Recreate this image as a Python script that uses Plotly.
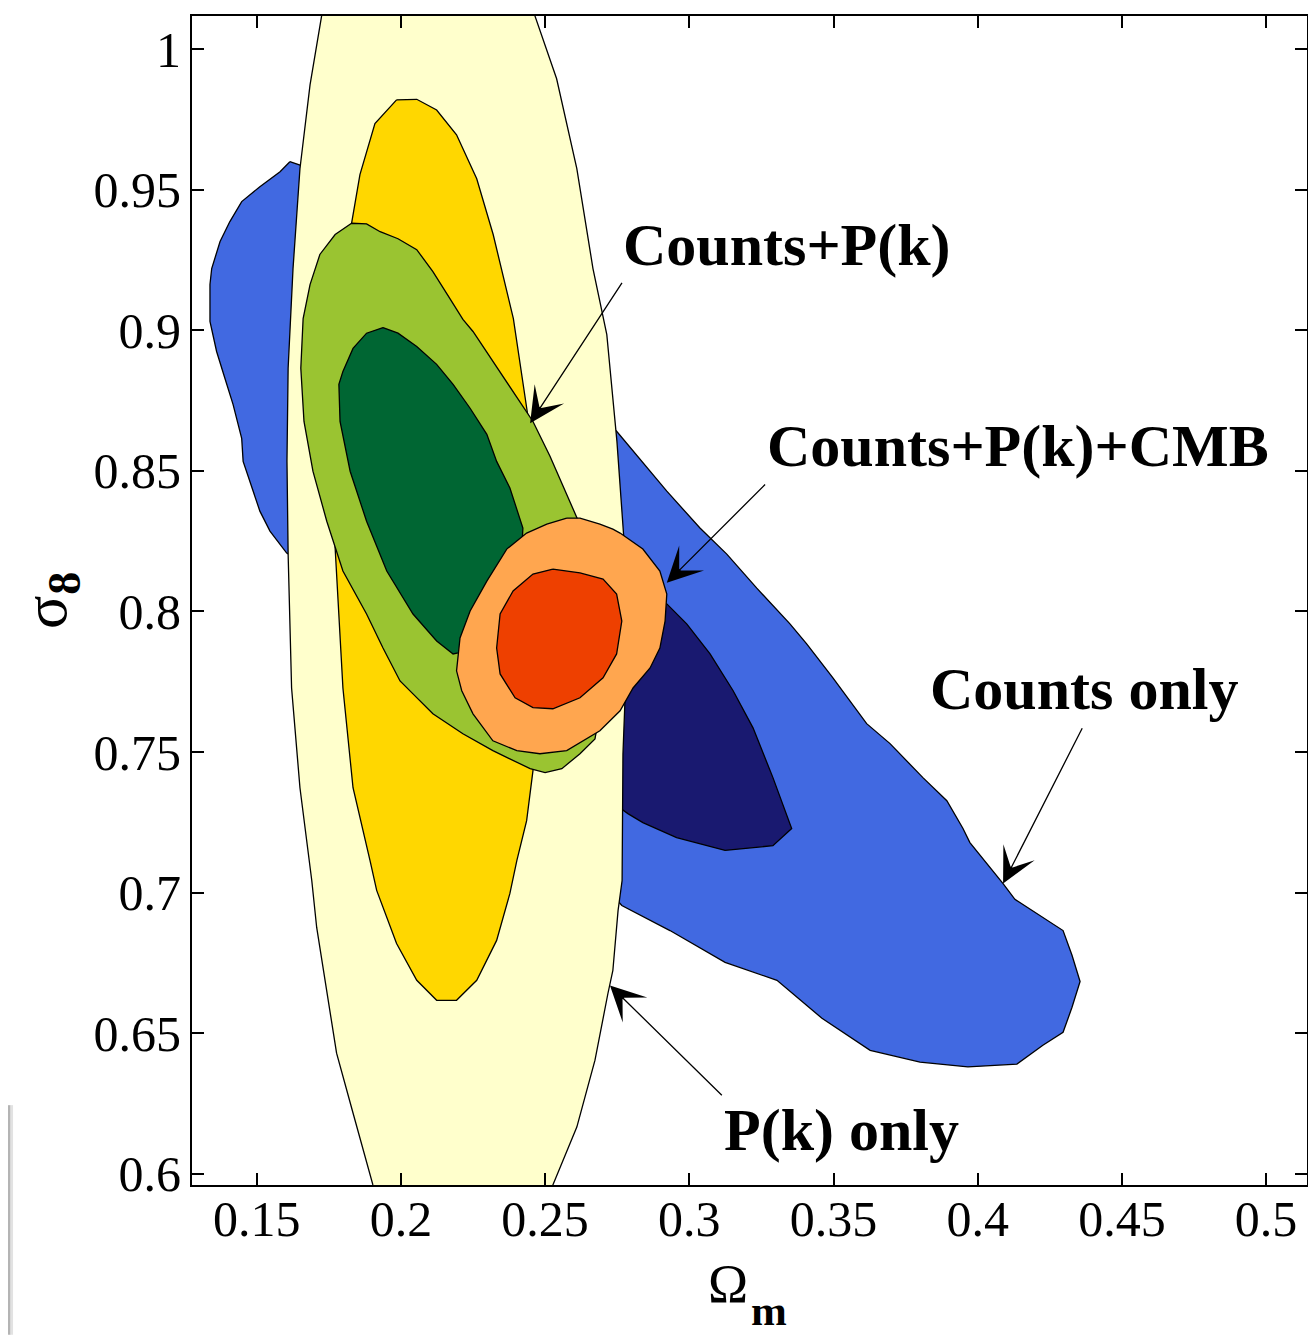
import plotly.graph_objects as go

# ---------------- data (Omega_m, sigma_8) ----------------
# Counts only, outer (2 sigma) contour
cnt_2s_om = [0.1615, 0.1643, 0.1719, 0.2170, 0.2708, 0.2748, 0.2805, 0.2922, 0.3037, 0.3130,
             0.3234, 0.3349, 0.3407, 0.3498, 0.3615, 0.3696, 0.3810, 0.3893, 0.3949, 0.3973,
             0.4088, 0.4129, 0.4296, 0.4327, 0.4355, 0.4327, 0.4296, 0.4226, 0.4136, 0.3966,
             0.3800, 0.3627, 0.3460, 0.3304, 0.3124, 0.2933, 0.2766, 0.2690, 0.2170, 0.1650,
             0.1604, 0.1546, 0.1511, 0.1483, 0.1453, 0.1448, 0.1418, 0.1390, 0.1361, 0.1338,
             0.1338, 0.1344, 0.1373, 0.1407, 0.1448, 0.1511, 0.1581]
cnt_2s_s8 = [0.9600, 0.9590, 0.9564, 0.9245, 0.8676, 0.8641, 0.8570, 0.8428, 0.8297, 0.8204,
             0.8083, 0.7956, 0.7885, 0.7764, 0.7601, 0.7530, 0.7409, 0.7327, 0.7228, 0.7178,
             0.7032, 0.6976, 0.6865, 0.6777, 0.6684, 0.6592, 0.6503, 0.6457, 0.6390, 0.6380,
             0.6397, 0.6439, 0.6553, 0.6688, 0.6752, 0.6865, 0.6954, 0.7043, 0.7682, 0.8179,
             0.8208, 0.8286, 0.8357, 0.8439, 0.8534, 0.8616, 0.8737, 0.8829, 0.8925, 0.9032,
             0.9163, 0.9220, 0.9316, 0.9387, 0.9458, 0.9511, 0.9564]

# Counts only, inner (1 sigma) contour
cnt_1s_om = [0.2922, 0.2991, 0.3072, 0.3152, 0.3221, 0.3290, 0.3355, 0.3290, 0.3124, 0.2956,
             0.2839, 0.2787, 0.2725, 0.2690, 0.2742, 0.2864]
cnt_1s_s8 = [0.8027, 0.7956, 0.7849, 0.7718, 0.7586, 0.7409, 0.7228, 0.7167, 0.7150, 0.7196,
             0.7249, 0.7281, 0.7327, 0.7682, 0.8037, 0.8073]

# P(k) only, outer contour
pk_2s_om = [0.1725, 0.1685, 0.1650, 0.1626, 0.1609, 0.1605, 0.1609, 0.1621, 0.1650, 0.1691,
            0.1708, 0.1737, 0.1777, 0.1834, 0.1903, 0.1962, 0.2222, 0.2465, 0.2527, 0.2610,
            0.2673, 0.2718, 0.2735, 0.2753, 0.2767, 0.2770, 0.2783, 0.2777, 0.2749, 0.2714,
            0.2666, 0.2610, 0.2540, 0.2465, 0.2413, 0.2101, 0.1789]
pk_2s_s8 = [1.0118, 0.9873, 0.9575, 0.9220, 0.8865, 0.8534, 0.8204, 0.7728, 0.7373, 0.7043,
            0.6876, 0.6688, 0.6429, 0.6216, 0.5960, 0.5765, 0.5658, 0.5765, 0.5960, 0.6166,
            0.6404, 0.6642, 0.6723, 0.6936, 0.7043, 0.7494, 0.7849, 0.8204, 0.8606, 0.8985,
            0.9220, 0.9575, 0.9895, 1.0118, 1.0275, 1.0417, 1.0275]

# P(k) only, inner contour
pk_1s_om = [0.1985, 0.2055, 0.2124, 0.2193, 0.2263, 0.2320, 0.2390, 0.2442, 0.2465, 0.2475,
            0.2472, 0.2458, 0.2436, 0.2402, 0.2378, 0.2332, 0.2263, 0.2193, 0.2124, 0.2055,
            0.1985, 0.1916, 0.1893, 0.1834, 0.1799, 0.1772, 0.1772, 0.1778, 0.1796, 0.1829,
            0.1858, 0.1910]
pk_1s_s8 = [0.9820, 0.9822, 0.9784, 0.9696, 0.9539, 0.9341, 0.9042, 0.8684, 0.8392, 0.8037,
            0.7682, 0.7434, 0.7256, 0.7114, 0.6997, 0.6830, 0.6688, 0.6617, 0.6617, 0.6688,
            0.6819, 0.7008, 0.7114, 0.7373, 0.7728, 0.8226, 0.8463, 0.8748, 0.9103, 0.9381,
            0.9554, 0.9736]

# Counts+P(k), outer contour
cp_2s_om = [0.1829, 0.1881, 0.1928, 0.1990, 0.2055, 0.2111, 0.2170, 0.2215, 0.2250, 0.2319,
            0.2389, 0.2458, 0.2517, 0.2552, 0.2579, 0.2611, 0.2690, 0.2708, 0.2673, 0.2621,
            0.2558, 0.2500, 0.2448, 0.2389, 0.2319, 0.2215, 0.2111, 0.2042, 0.1997, 0.1938,
            0.1881, 0.1799, 0.1743, 0.1695, 0.1664, 0.1653, 0.1661, 0.1685, 0.1719, 0.1772]
cp_2s_s8 = [0.9381, 0.9379, 0.9351, 0.9326, 0.9287, 0.9209, 0.9113, 0.9039, 0.8996, 0.8890,
            0.8783, 0.8676, 0.8552, 0.8471, 0.8410, 0.8332, 0.8037, 0.7753, 0.7547, 0.7494,
            0.7441, 0.7427, 0.7441, 0.7469, 0.7505, 0.7565, 0.7636, 0.7707, 0.7753, 0.7870,
            0.7991, 0.8144, 0.8321, 0.8499, 0.8676, 0.8865, 0.9042, 0.9163, 0.9270, 0.9341]

# Counts+P(k), inner contour
cp_1s_om = [0.1938, 0.1990, 0.2055, 0.2124, 0.2181, 0.2240, 0.2298, 0.2332, 0.2378, 0.2423,
            0.2413, 0.2309, 0.2198, 0.2181, 0.2124, 0.2042, 0.1951, 0.1881, 0.1824, 0.1789,
            0.1785, 0.1799, 0.1834, 0.1881]
cp_1s_s8 = [0.9010, 0.8990, 0.8943, 0.8879, 0.8808, 0.8723, 0.8630, 0.8534, 0.8439, 0.8297,
            0.8108, 0.7895, 0.7853, 0.7849, 0.7895, 0.7991, 0.8144, 0.8321, 0.8499, 0.8676,
            0.8808, 0.8854, 0.8936, 0.8990]

# Counts+P(k)+CMB, outer contour
cmb_2s_om = [0.2575, 0.2621, 0.2690, 0.2735, 0.2760, 0.2839, 0.2898, 0.2922, 0.2916, 0.2898,
             0.2864, 0.2805, 0.2760, 0.2690, 0.2575, 0.2482, 0.2402, 0.2319, 0.2250, 0.2211,
             0.2193, 0.2205, 0.2240, 0.2298, 0.2367, 0.2436, 0.2506]
cmb_2s_s8 = [0.8332, 0.8332, 0.8311, 0.8293, 0.8279, 0.8222, 0.8144, 0.8062, 0.7966, 0.7870,
             0.7799, 0.7728, 0.7647, 0.7576, 0.7505, 0.7494, 0.7505, 0.7540, 0.7636, 0.7718,
             0.7789, 0.7906, 0.8002, 0.8108, 0.8222, 0.8279, 0.8311]

# Counts+P(k)+CMB, inner contour
cmb_1s_om = [0.2527, 0.2621, 0.2701, 0.2748, 0.2766, 0.2748, 0.2701, 0.2621, 0.2527, 0.2458,
             0.2396, 0.2344, 0.2332, 0.2344, 0.2389, 0.2458]
cmb_1s_s8 = [0.8151, 0.8137, 0.8115, 0.8062, 0.7966, 0.7849, 0.7764, 0.7693, 0.7654, 0.7658,
             0.7693, 0.7778, 0.7870, 0.7991, 0.8073, 0.8133]

# tick labels
x_tickvals = [0.15, 0.2, 0.25, 0.3, 0.35, 0.4, 0.45, 0.5]
x_ticktext = ["0.15", "0.2", "0.25", "0.3", "0.35", "0.4", "0.45", "0.5"]
y_tickvals = [0.6, 0.65, 0.7, 0.75, 0.8, 0.85, 0.9, 0.95, 1.0]
y_ticktext = ["0.6", "0.65", "0.7", "0.75", "0.8", "0.85", "0.9", "0.95", "1"]

# labels: text, label centre (om, s8), arrow tail (om, s8), arrow tip (om, s8)
label_text = ["Counts+P(k)", "Counts+P(k)+CMB", "Counts only", "P(k) only"]
label_om = [0.3340, 0.4138, 0.4369, 0.3528]
label_s8 = [0.9305, 0.8588, 0.7725, 0.6155]
tail_om = [0.2770, 0.3268, 0.4365, 0.3118]
tail_s8 = [0.9174, 0.8457, 0.7590, 0.6274]
tip_om = [0.2448, 0.2922, 0.4088, 0.2725]
tip_s8 = [0.8670, 0.8102, 0.7032, 0.6670]

x_range = [0.12757, 0.51418]
y_range = [0.59599, 1.01183]

# ---------------- figure ----------------
SERIF = "Liberation Serif, Times New Roman, serif"
fig = go.Figure()

regions = [
    (cnt_2s_om, cnt_2s_s8, "#4169E1"),
    (cnt_1s_om, cnt_1s_s8, "#191970"),
    (pk_2s_om, pk_2s_s8, "#FFFFCC"),
    (pk_1s_om, pk_1s_s8, "#FFD700"),
    (cp_2s_om, cp_2s_s8, "#9AC431"),
    (cp_1s_om, cp_1s_s8, "#006633"),
    (cmb_2s_om, cmb_2s_s8, "#FFA64F"),
    (cmb_1s_om, cmb_1s_s8, "#EE4000"),
]
for xs, ys, col in regions:
    fig.add_trace(go.Scatter(
        x=xs + xs[:1], y=ys + ys[:1], mode="lines", fill="toself",
        fillcolor=col, line=dict(color="black", width=1.3, shape="linear"),
        hoverinfo="skip", showlegend=False))

for i in range(len(label_text)):
    fig.add_annotation(x=tip_om[i], y=tip_s8[i], ax=tail_om[i], ay=tail_s8[i],
                       xref="x", yref="y", axref="x", ayref="y", text="",
                       showarrow=True, arrowhead=3, arrowsize=4.5, arrowwidth=1.3,
                       arrowcolor="black", standoff=0, startstandoff=0)
    fig.add_annotation(x=label_om[i], y=label_s8[i], xref="x", yref="y",
                       text="<b>" + label_text[i] + "</b>", showarrow=False,
                       font=dict(family=SERIF, size=60, color="black"),
                       xanchor="center", yanchor="middle")

# axis titles
fig.add_annotation(x=0.4807, y=-0.0845, xref="paper", yref="paper", text="Ω",
                   showarrow=False, font=dict(family=SERIF, size=54, color="black"),
                   xanchor="center", yanchor="middle")
fig.add_annotation(x=0.5175, y=-0.1072, xref="paper", yref="paper", text="<b>m</b>",
                   showarrow=False, font=dict(family=SERIF, size=43, color="black"),
                   xanchor="center", yanchor="middle")
fig.add_annotation(x=-0.1318, y=0.4893, xref="paper", yref="paper", text="σ",
                   textangle=-90, showarrow=False,
                   font=dict(family=SERIF, size=62, color="black"),
                   xanchor="center", yanchor="middle")
fig.add_annotation(x=-0.1150, y=0.5149, xref="paper", yref="paper", text="<b>8</b>",
                   textangle=-90, showarrow=False,
                   font=dict(family=SERIF, size=46, color="black"),
                   xanchor="center", yanchor="middle")

# screenshot edge artefact at lower left
fig.add_shape(type="rect", xref="paper", yref="paper", x0=-0.1650, x1=-0.1627,
              y0=-0.1281, y1=0.0683, fillcolor="#b4b4b4", line=dict(width=0), layer="above")
fig.add_shape(type="rect", xref="paper", yref="paper", x0=-0.1627, x1=-0.1605,
              y0=-0.1281, y1=0.0683, fillcolor="#e2e2e2", line=dict(width=0), layer="above")

axis_common = dict(showgrid=False, zeroline=False, showline=True, linecolor="black",
                   linewidth=2, mirror="ticks", ticks="inside", ticklen=12, tickwidth=1.5,
                   tickcolor="black", tickfont=dict(family=SERIF, size=50, color="black"))
fig.update_xaxes(range=x_range, tickmode="array", tickvals=x_tickvals,
                 ticktext=x_ticktext, ticklabelstandoff=-11, **axis_common)
fig.update_yaxes(range=y_range, tickmode="array", tickvals=y_tickvals,
                 ticktext=y_ticktext, ticklabelstandoff=-1, **axis_common)

# the page body adds an 8 px offset, so the figure is 8 px smaller than the window
fig.update_layout(width=1308, height=1327, margin=dict(l=184, r=9, t=6, b=150),
                  plot_bgcolor="white", paper_bgcolor="white", hovermode=False)

fig.write_html("out.html")
